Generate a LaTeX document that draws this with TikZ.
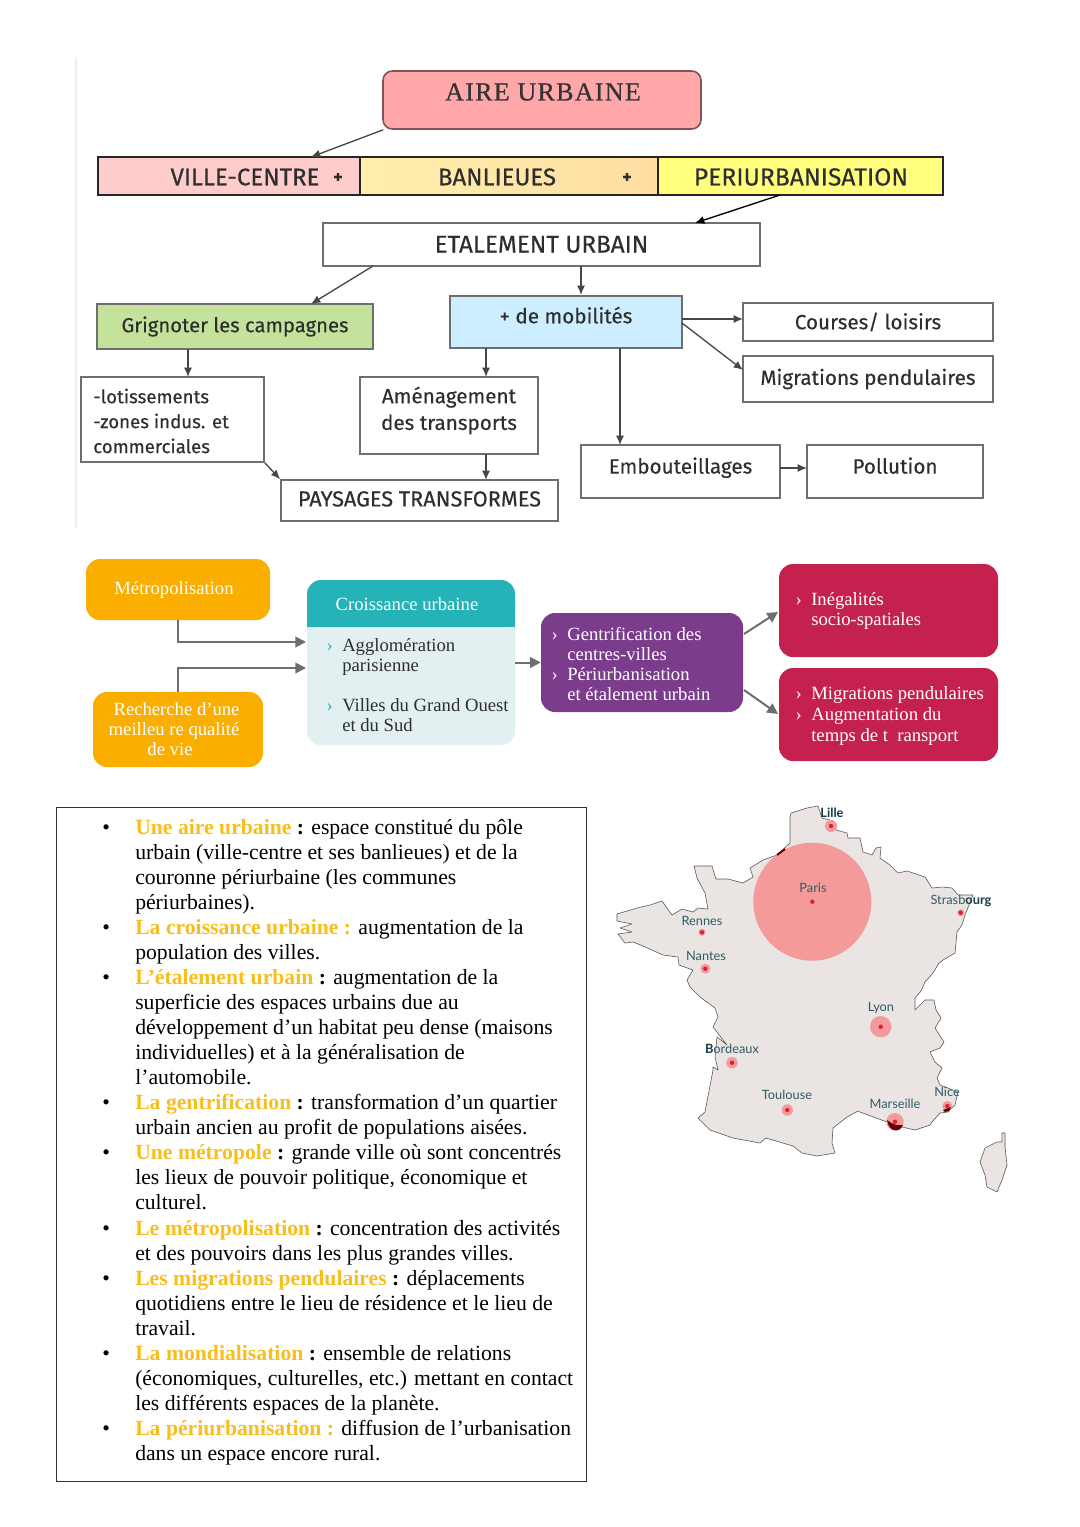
\documentclass[tikz,border=0pt]{standalone}
\usepackage{fontspec}
\usetikzlibrary{arrows.meta}
\setmainfont{Liberation Serif}
\newfontfamily\comicfont[FakeBold=0.3]{Fira Sans}
\newfontfamily\mapfont{Lato}
\definecolor{framegrey}{HTML}{6F6F6F}
\definecolor{inkgrey}{HTML}{2E2E2E}
\definecolor{airepink}{HTML}{FFA7A9}
\definecolor{villepink}{HTML}{FFCCCC}
\definecolor{banlieuelight}{HTML}{FFEFAD}
\definecolor{banlieuedark}{HTML}{FFDDA2}
\definecolor{periyellow}{HTML}{FFFF7D}
\definecolor{grignotgreen}{HTML}{C5E29C}
\definecolor{mobilblue}{HTML}{CCEEFF}
\definecolor{metroorange}{HTML}{F9AE00}
\definecolor{croisteal}{HTML}{26B3B8}
\definecolor{croispale}{HTML}{E3F0F2}
\definecolor{gentripurple}{HTML}{7C3C8C}
\definecolor{ineqred}{HTML}{C4214F}
\definecolor{termyellow}{HTML}{F8BE1E}
\definecolor{landgrey}{HTML}{EAE5E2}
\definecolor{halored}{HTML}{F59A9A}
\definecolor{dotred}{HTML}{D8203C}
\definecolor{citytext}{HTML}{2F5B68}
\definecolor{citydark}{HTML}{173C46}
\definecolor{softgrey}{HTML}{6E6E6E}
\tikzset{
  wh/.style 2 args={minimum width=#1*.75pt,minimum height=#2*.75pt,inner sep=0pt},
  cbox/.style={draw=framegrey,line width=1.2pt,fill=white,text=inkgrey,font=\comicfont\fontsize{15.5}{20}\selectfont,align=center},
  cword/.style={text=inkgrey,inner sep=0pt,align=left,font=\comicfont\fontsize{15.5}{20}\selectfont},
  bandbox/.style={draw=black!85,line width=1.9pt},
  bandword/.style={text=inkgrey,font=\comicfont\fontsize{18}{22}\selectfont,inner sep=0pt},
  cplus/.style={text=inkgrey,font=\comicfont\bfseries\fontsize{13}{15}\selectfont,inner sep=0pt},
  carrow/.style={draw=black!72,line width=1pt,-{Latex[length=7pt,width=6pt]}},
  softbox/.style={rounded corners=10.5pt,text=white,align=left,font=\fontsize{14}{15}\selectfont},
  softword/.style={align=left,anchor=west,inner sep=0pt,font=\fontsize{14}{15}\selectfont},
  softarrow/.style={draw=softgrey,line width=1.5pt,-{Triangle[length=8pt,width=8pt]}},
  landshape/.style={fill=landgrey,draw=black!65,line width=.45pt,line join=round},
  citylabel/.style={text=citytext,font=\mapfont\fontsize{9.6}{11}\selectfont,inner sep=0pt},
}
\newcommand{\chev}{\llap{›\hspace{7pt}}}
\newcommand{\yel}[1]{\textcolor{termyellow}{\textbf{#1}}}
\newcommand{\bul}{\llap{\textbullet\hspace{19pt}}}
\begin{document}
\begin{tikzpicture}[x=.75pt,y=-.75pt]
\useasboundingbox[fill=white] (0,0) rectangle (1080,1527);
% top concept map
\draw[black!7,line width=.8pt] (76,57) -- (76,528);
\node[wh={318}{58},draw=black!50!airepink,line width=1.2pt,fill=airepink,rounded corners=7pt] (aire) at (542,100) {};
\node[text=black!80,font=\fontsize{19.5}{22}\selectfont,inner sep=0pt] (airetext) at (543,92) {\addfontfeature{LetterSpace=5,FakeBold=0.6}AIRE URBAINE};
\node[bandbox,wh={262}{38},fill=villepink] (ville) at (229,176) {};
\node[bandbox,wh={298}{38},left color=banlieuelight,right color=banlieuedark] (banlieue) at (509,176) {};
\node[bandbox,wh={285}{38},fill=periyellow] (periurb) at (800.5,176) {};
\node[bandword] (villetext) at (245,177) {VILLE-CENTRE};
\node[bandword] (banlieuetext) at (497,177) {BANLIEUES};
\node[bandword,font=\comicfont\fontsize{18.5}{22}\selectfont] (peritext) at (801,177) {PERIURBANISATION};
\node[cplus] (plusa) at (338,178) {+};
\node[cplus] (plusb) at (627,178) {+};
\node[cbox,wh={437}{43},font=\comicfont\fontsize{18.2}{22}\selectfont] (etalement) at (541.5,244.5) {\raisebox{.5pt}{ETALEMENT URBAIN}};
\node[cbox,wh={276}{45},fill=grignotgreen,font=\comicfont\fontsize{15.2}{19}\selectfont] (grignoter) at (235,326.5) {Grignoter les campagnes};
\node[cbox,wh={232}{52},fill=mobilblue] (mobilites) at (566,322) {\raisebox{10.5pt}{+ de mobilités}};
\node[cbox,wh={250}{38}] (courses) at (868,322) {\raisebox{-4.5pt}{Courses/ loisirs}};
\node[cbox,wh={250}{46}] (migrations) at (868,379) {Migrations pendulaires};
\node[cbox,wh={183}{85}] (lotis) at (172.5,419.5) {};
\node[cword,anchor=west,font=\comicfont\fontsize{14}{18.7}\selectfont] (lotistext) at (93,421) {-lotissements\\-zones indus. et\\commerciales};
\node[cbox,wh={178}{77}] (amenag) at (449,415.5) {};
\node[cword,align=center] (amenagtext) at (449,410.5) {Aménagement\\des transports};
\node[cbox,wh={199}{53}] (embout) at (680.5,471.5) {\raisebox{9pt}{Embouteillages}};
\node[cbox,wh={176}{53}] (pollution) at (895,471.5) {\raisebox{9pt}{Pollution}};
\node[cbox,wh={277}{41},font=\comicfont\fontsize{16.3}{20}\selectfont] (paysages) at (419.5,500.5) {\raisebox{2.5pt}{PAYSAGES TRANSFORMES}};
\coordinate (villeend) at (311,157);
\coordinate (etalstart) at (780,195);
\coordinate (etalend) at (695,223);
\coordinate (grigstart) at (373,266);
\coordinate (grigend) at (311,304);
\draw[carrow] (aire.south west) ++(1,0) -- (villeend);
\draw[carrow,draw=black] (etalstart) -- (etalend);
\draw[carrow] (grigstart) -- (grigend);
\draw[carrow] (581,266) -- (581,295);
\draw[carrow] (188,349) -- (188,377);
\draw[carrow] (486,348) -- (486,377);
\draw[carrow] (486,454) -- (486,480);
\draw[carrow] (lotis.south east) -- (paysages.north west);
\draw[carrow] (682,319) -- (743,319);
\draw[carrow] (682,323) -- (743,370);
\draw[carrow] (620,348) -- (620,445);
\draw[carrow] (780,468) -- (807,468);
% second row of rounded boxes
\node[softbox,wh={184}{61},fill=metroorange] (metro) at (178,589.5) {\raisebox{2pt}{\hspace*{-6pt}Métropolisation}};
\node[softbox,wh={170}{75},fill=metroorange,align=center] (qualite) at (178,729.5) {\hspace*{-2.2pt}Recherche d’une\\\hspace*{-6pt}meilleu re qualité\\\hspace*{-12pt}de vie};
\node[wh={208}{165},rounded corners=10.5pt,fill=croispale] (croissance) at (411,662.5) {};
\path[fill=croisteal,rounded corners=10.5pt] (307,627) -- (307,580) -- (515,580) -- (515,627) [sharp corners] -- cycle;
\fill[croisteal] (307,610) rectangle (515,627);
\node[text=white,font=\fontsize{14}{15}\selectfont,inner sep=0pt] (croistitle) at (407,604) {Croissance urbaine};
\node[softword,text=inkgrey] (itema) at (342,657) {\textcolor{croisteal}{\chev}Agglomération\\parisienne};
\node[softword,text=inkgrey] (itemb) at (342,715) {\textcolor{croisteal}{\chev}Villes du Grand Ouest\\et du Sud};
\node[softbox,wh={202}{99},fill=gentripurple] (gentri) at (642,662.5) {};
\node[softword,text=white] (gentritext) at (567,664) {\chev Gentrification des\\centres-villes\\\chev Périurbanisation\\et étalement urbain};
\node[softbox,wh={219}{93},fill=ineqred] (inega) at (888.5,610.5) {};
\node[softword,text=white] (inegatext) at (811,610.5) {\chev Inégalités\\socio-spatiales};
\node[softbox,wh={219}{93},fill=ineqred] (migra) at (888.5,714.5) {};
\node[softword,text=white,font=\fontsize{14}{15.6}\selectfont] (migratext) at (811,716) {\chev Migrations pendulaires\\\chev Augmentation du\\temps de t\enspace ransport};
\coordinate (inlow) at (306,642);
\coordinate (inhigh) at (306,668);
\coordinate (gentriup) at (744,634);
\coordinate (gentridown) at (744,690);
\coordinate (inegain) at (778,612);
\coordinate (migrain) at (778,714);
\draw[softarrow] (metro.south) |- (inlow);
\draw[softarrow] (qualite.north) |- (inhigh);
\draw[softarrow] (croissance.east) -- (gentri.west);
\draw[softarrow] (gentriup) -- (inegain);
\draw[softarrow] (gentridown) -- (migrain);
% framed list of terms
\node[draw=black!80,line width=.7pt,wh={530}{674}] (termframe) at (321,1144) {};
\node[anchor=north west,align=left,inner sep=0pt,text=black,font=\fontsize{16.27}{18.78}\selectfont] (termlist) at (135,819) {%
\bul\yel{Une aire urbaine} \textbf{:} espace constitué du pôle\\
urbain (ville-centre et ses banlieues) et de la\\
couronne périurbaine (les communes\\
périurbaines).\\
\bul\yel{La croissance urbaine :} augmentation de la\\
population des villes.\\
\bul\yel{L’étalement urbain} \textbf{:} augmentation de la\\
superficie des espaces urbains due au\\
développement d’un habitat peu dense (maisons\\
individuelles) et à la généralisation de\\
l’automobile.\\
\bul\yel{La gentrification} \textbf{:} transformation d’un quartier\\
urbain ancien au profit de populations aisées.\\
\bul\yel{Une métropole} \textbf{:} grande ville où sont concentrés\\
les lieux de pouvoir politique, économique et\\
culturel.\\
\bul\yel{Le métropolisation} \textbf{:} concentration des activités\\
et des pouvoirs dans les plus grandes villes.\\
\bul\yel{Les migrations pendulaires} \textbf{:} déplacements\\
quotidiens entre le lieu de résidence et le lieu de\\
travail.\\
\bul\yel{La mondialisation} \textbf{:} ensemble de relations\\
(économiques, culturelles, etc.) mettant en contact\\
les différents espaces de la planète.\\
\bul\yel{La périurbanisation :} diffusion de l’urbanisation\\
dans un espace encore rural.};
% map of France
\draw[landshape] (790,817) -- (791,813) -- (807,808) -- (818,806) -- (822,818) -- (833,821) -- (836,830) -- (847,833) -- (848,838) -- (860,838) -- (863,852) -- (872,855) -- (876,848) -- (881,847) -- (880,858) -- (890,865) -- (898,873) -- (907,871) -- (925,877) -- (932,888) -- (942,887) -- (952,888) -- (958,895) -- (973,895) -- (965,915) -- (962,925) -- (957,932) -- (955,953) -- (943,960) -- (939,963) -- (933,973) -- (925,982) -- (921,991) -- (915,998) -- (915,1010) -- (925,1000) -- (934,1000) -- (936,1010) -- (941,1018) -- (935,1028) -- (944,1042) -- (940,1048) -- (930,1052) -- (935,1062) -- (942,1068) -- (937,1078) -- (940,1085) -- (958,1092) -- (955,1105) -- (948,1112) -- (940,1113) -- (932,1122) -- (930,1125) -- (915,1130) -- (902,1127) -- (893,1128) -- (887,1122) -- (860,1112) -- (858,1111) -- (847,1117) -- (833,1128) -- (832,1143) -- (835,1153) -- (817,1156) -- (802,1153) -- (793,1146) -- (766,1138) -- (760,1143) -- (733,1138) -- (710,1130) -- (698,1118) -- (705,1112) -- (713,1070) -- (713,1067) -- (718,1070) -- (715,1057) -- (717,1037) -- (727,1045) -- (713,1027) -- (718,1017) -- (715,1008) -- (700,997) -- (690,987) -- (687,980) -- (693,970) -- (679,965) -- (678,957) -- (663,955) -- (643,946) -- (633,942) -- (625,943) -- (618,934) -- (632,932) -- (620,928) -- (632,924) -- (617,921) -- (617,914) -- (637,908) -- (650,905) -- (662,901) -- (672,915) -- (682,909) -- (693,912) -- (698,908) -- (708,909) -- (705,893) -- (697,878) -- (694,866) -- (712,866) -- (716,879) -- (728,879) -- (743,883) -- (753,877) -- (750,868) -- (763,860) -- (777,855) -- (790,843) -- cycle;
\draw[landshape] (1002,1133) -- (1005,1133) -- (1005,1147) -- (1007,1165) -- (1002,1180) -- (997,1192) -- (987,1187) -- (985,1175) -- (980,1162) -- (985,1148) -- (997,1142) -- (1002,1142) -- cycle;
% pale discs, then the city dots
\foreach \xx/\yy/\rr in {812.3/901.7/59,831/826/6,702/932.3/3.5,705.3/968.7/5,880.7/1026.7/10.7,732/1062.7/5.7,787.3/1110/5.7,895/1121.7/8.7,947.3/1106/5,960.7/912.7/3.5} {\fill[halored] (\xx,\yy) circle (\rr);}
\draw[black!60!red,line width=1.5pt] (777,855) -- (785,849);
\fill[black!60!red] (887,1120) .. controls (892,1124) and (897,1126) .. (903,1125) .. controls (900,1133) and (889,1133) .. (887,1120);
\fill[black!60!red] (943,1110) -- (951,1107) -- (949,1111) -- (945,1112) -- cycle;
\foreach \xx/\yy in {812.3/901.7,831/826,702/932.3,705.3/968.7,880.7/1026.7,732/1062.7,787.3/1110,895/1121.7,947.3/1106,960.7/912.7} {\fill[dotred] (\xx,\yy) circle (2.2);}
\node[citylabel,font=\mapfont\bfseries\fontsize{9.6}{11}\selectfont,text=citydark] (lille) at (832,813) {Lille};
\node[citylabel] (paris) at (813,888) {Paris};
\node[citylabel] (strasbourg) at (961,901) {Strasb\textcolor{citydark}{\textbf{ourg}}};
\node[citylabel] (rennes) at (702,921) {Rennes};
\node[citylabel] (nantes) at (706,956) {Nantes};
\node[citylabel] (lyon) at (881,1008) {Lyon};
\node[citylabel] (bordeaux) at (732,1049) {\textcolor{citydark}{\textbf{B}}ordeaux};
\node[citylabel] (toulouse) at (787,1095) {Toulouse};
\node[citylabel] (marseille) at (895,1104) {Marseille};
\node[citylabel] (nice) at (947,1092) {Nice};
\end{tikzpicture}
\end{document}
